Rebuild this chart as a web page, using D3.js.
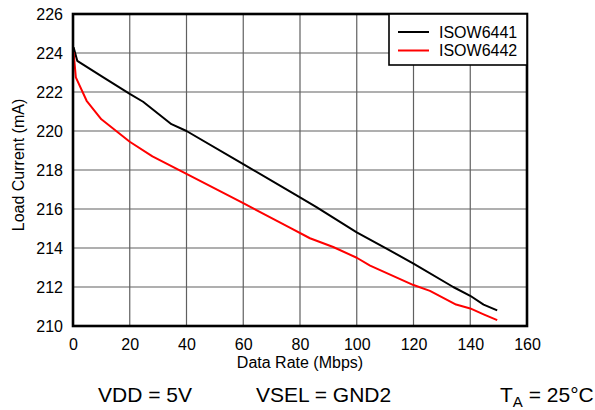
<!DOCTYPE html>
<html>
<head>
<meta charset="utf-8">
<script src="https://cdn.jsdelivr.net/npm/d3@7/dist/d3.min.js"></script>
<style>
  html, body { margin: 0; padding: 0; background: #fff; }
  svg { display: block; font-family: "Liberation Sans", Arial, sans-serif; }
</style>
</head>
<body>
<svg id="chart" width="595" height="410"></svg>
<script>
// ---- Data ----
const seriesNames = ["ISOW6441", "ISOW6442"];
const isow6441X = [0.2, 1.5, 10.7, 20, 24.7, 34.7, 40, 60, 76.4, 80, 85.8, 100, 110.5, 120, 134, 140, 144.7, 149.5];
const isow6441Y = [224.3, 223.6, 222.75, 221.9, 221.5, 220.35, 220.0, 218.3, 216.9, 216.6, 216.1, 214.8, 213.97, 213.2, 212.0, 211.55, 211.1, 210.8];
const isow6442X = [0.2, 1, 4.8, 10, 20, 28, 40, 60, 71.7, 76.4, 83.5, 91.7, 100, 104.7, 120, 125.8, 135, 140, 144.7, 149.5];
const isow6442Y = [224.05, 222.75, 221.55, 220.6, 219.45, 218.7, 217.8, 216.3, 215.4, 215.05, 214.5, 214.05, 213.5, 213.1, 212.1, 211.8, 211.1, 210.9, 210.6, 210.3];
const xTicks = [0, 20, 40, 60, 80, 100, 120, 140, 160];
const yTicks = [210, 212, 214, 216, 218, 220, 222, 224, 226];
const xTitle = "Data Rate (Mbps)";
const yTitle = "Load Current (mA)";

// ---- Layout ----
const svg = d3.select("#chart");
const L = 73, R = 527, T = 14, B = 326;
const x = d3.scaleLinear().domain([0, 160]).range([L, R]);
const y = d3.scaleLinear().domain([210, 226]).range([B, T]);

// grid
const g = svg.append("g");
g.selectAll("line.vg").data(xTicks.slice(1, -1)).join("line")
  .attr("x1", d => x(d)).attr("x2", d => x(d)).attr("y1", T).attr("y2", B)
  .attr("stroke", "#606060").attr("stroke-width", 1.2);
g.selectAll("line.hg").data(yTicks.slice(1, -1)).join("line")
  .attr("y1", d => y(d)).attr("y2", d => y(d)).attr("x1", L).attr("x2", R)
  .attr("stroke", "#606060").attr("stroke-width", 1.2);

// axes (labels only)
const xAxis = svg.append("g").attr("transform", `translate(0,${B})`)
  .call(d3.axisBottom(x).tickValues(xTicks).tickSize(0).tickPadding(13));
const yAxis = svg.append("g").attr("transform", `translate(${L},0)`)
  .call(d3.axisLeft(y).tickValues(yTicks).tickSize(0).tickPadding(10));
[xAxis, yAxis].forEach(a => {
  a.select(".domain").remove();
  a.selectAll("text").attr("font-size", 16).attr("fill", "#000")
    .attr("font-family", "Liberation Sans, Arial, sans-serif");
});

// lines
const line = d3.line().x(d => x(d[0])).y(d => y(d[1]));
const s1 = isow6441X.map((v, i) => [v, isow6441Y[i]]);
const s2 = isow6442X.map((v, i) => [v, isow6442Y[i]]);
const colors = ["#000000", "#ff0000"];
svg.append("clipPath").attr("id", "clip").append("rect")
  .attr("x", L).attr("y", T).attr("width", R - L).attr("height", B - T);
[s1, s2].forEach((s, i) => {
  svg.append("path").datum(s).attr("d", line).attr("fill", "none")
    .attr("stroke", colors[i]).attr("stroke-width", 2).attr("stroke-linejoin", "round")
    .attr("clip-path", "url(#clip)");
});

// frame
svg.append("rect").attr("x", L).attr("y", T).attr("width", R - L).attr("height", B - T)
  .attr("fill", "none").attr("stroke", "#000").attr("stroke-width", 2.6);

// legend
const lg = svg.append("g");
lg.append("rect").attr("x", 389).attr("y", T).attr("width", R - 389).attr("height", 51)
  .attr("fill", "#fff").attr("stroke", "#000").attr("stroke-width", 1.6);
seriesNames.forEach((n, i) => {
  const yy = 32 + i * 18.5;
  lg.append("line").attr("x1", 398).attr("x2", 429).attr("y1", yy).attr("y2", yy)
    .attr("stroke", colors[i]).attr("stroke-width", 2);
  lg.append("text").attr("x", 439).attr("y", yy).attr("dy", "0.35em")
    .attr("font-size", 16).text(n);
});

// titles
svg.append("text").attr("x", x(80)).attr("y", 362).attr("dy", "0.35em")
  .attr("text-anchor", "middle").attr("font-size", 16).text(xTitle);
svg.append("text").attr("transform", `translate(18,${(T + B) / 2 - 5}) rotate(-90)`)
  .attr("dy", "0.35em").attr("text-anchor", "middle").attr("font-size", 16).text(yTitle);

// conditions
const cond = svg.append("g").attr("font-size", 21);
cond.append("text").attr("x", 98).attr("y", 402).text("VDD = 5V");
cond.append("text").attr("x", 256).attr("y", 402).text("VSEL = GND2");
const ta = cond.append("text").attr("x", 500).attr("y", 402);
ta.append("tspan").text("T");
ta.append("tspan").attr("font-size", 15).attr("dy", 5).text("A");
ta.append("tspan").attr("dy", -5).text(" = 25°C");
</script>
</body>
</html>
